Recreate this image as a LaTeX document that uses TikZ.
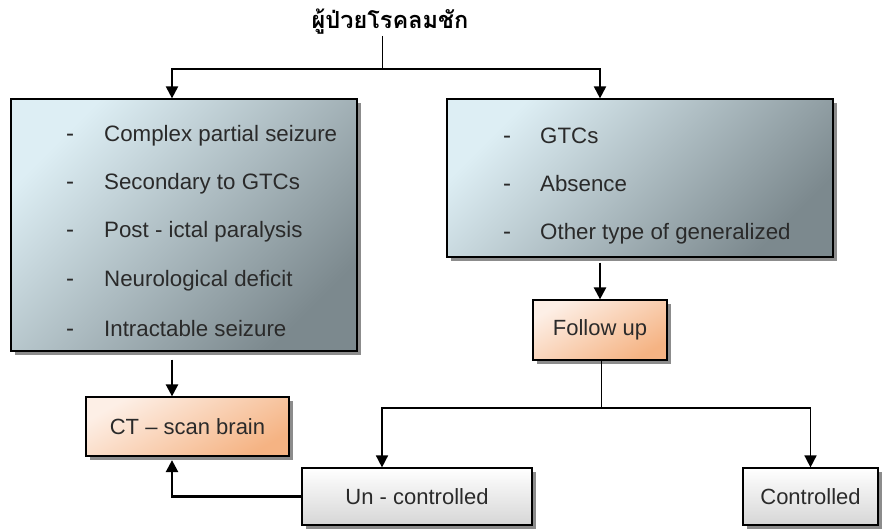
\documentclass[tikz,border=0pt]{standalone}
\usepackage{fontspec}
\setmainfont{Liberation Sans}
\newfontfamily\thaifont[Script=Thai]{Loma}
\usetikzlibrary{arrows.meta,shadows}
\definecolor{boxlight}{HTML}{DDEEF4}
\definecolor{boxdark}{HTML}{7C898E}
\definecolor{orlight}{HTML}{FDEFE6}
\definecolor{ordark}{HTML}{F5B383}
\definecolor{grlight}{HTML}{FFFFFF}
\definecolor{grdark}{HTML}{D6D6D6}
\definecolor{txt}{HTML}{2A2A2A}
\definecolor{shade}{HTML}{8C8C8C}
\tikzset{
  shad/.style={drop shadow={shadow xshift=3.5pt,shadow yshift=-3.5pt,fill=shade,opacity=1}},
  bigbox/.style={draw=black,line width=1.2pt,shad,top color=boxlight,bottom color=boxdark,shading angle=45,inner sep=0pt},
  orbox/.style={draw=black,line width=1.2pt,shad,top color=orlight,bottom color=ordark,shading angle=30,inner sep=0pt,text=txt,font=\fontsize{22}{26}\selectfont},
  grbox/.style={draw=black,line width=1.2pt,shad,top color=grlight,bottom color=grdark,inner sep=0pt,text=txt,font=\fontsize{22}{26}\selectfont},
  item/.style={anchor=base west,inner sep=0pt,text=txt,font=\fontsize{22.3}{26}\selectfont},
  dashmark/.style={anchor=base,inner sep=0pt,text=txt,font=\fontsize{24}{26}\selectfont},
  arr/.style={line width=2.4pt,-{Triangle[length=12pt,width=12pt]}},
  thinline/.style={line width=1pt},
}
\begin{document}
\begin{tikzpicture}[x=1pt,y=-1pt]
\useasboundingbox (0,0) rectangle (883,528);
% title
\node[inner sep=1pt,text=black,font=\thaifont\bfseries\fontsize{23.5}{27}\selectfont] (title) at (390,22) {ผู้ป่วยโรคลมชัก};
\coordinate (t) at (382,69);
% boxes
\node[bigbox,minimum width=346pt,minimum height=252pt] (L) at (184,225) {};
\node[bigbox,minimum width=386pt,minimum height=158pt] (R) at (640,178) {};
\node[orbox,minimum width=203pt,minimum height=59pt] (CT) at (187.5,426.5) {CT -- scan brain};
\node[orbox,minimum width=134pt,minimum height=60pt] (F) at (600,330) {Follow up};
\node[grbox,minimum width=230pt,minimum height=57pt] (U) at (417,496.5) {Un - controlled};
\node[grbox,minimum width=135pt,minimum height=57pt] (C) at (810.5,496.5) {Controlled};
% items left
\node[dashmark] (ld1) at (70,141) {-};
\node[item] (l1) at (104,141) {Complex partial seizure};
\node[dashmark] (ld2) at (70,189) {-};
\node[item] (l2) at (104,189) {Secondary to GTCs};
\node[dashmark] (ld3) at (70,237) {-};
\node[item] (l3) at (104,237) {Post - ictal paralysis};
\node[dashmark] (ld4) at (70,286) {-};
\node[item] (l4) at (104,286) {Neurological deficit};
\node[dashmark] (ld5) at (70,336) {-};
\node[item] (l5) at (104,336) {Intractable seizure};
% items right
\node[dashmark] (rd1) at (507,143) {-};
\node[item] (r1) at (540,143) {GTCs};
\node[dashmark] (rd2) at (507,191) {-};
\node[item] (r2) at (540,191) {Absence};
\node[dashmark] (rd3) at (507,239) {-};
\node[item] (r3) at (540,239) {Other type of generalized};
% connectors
\coordinate (rs) at ([yshift=-5pt]R.south -| F.north);
\coordinate (ls) at ([xshift=-12pt,yshift=-8pt]L.south);
\draw[thinline] (title.south -| t) -- (t);
\draw[arr,line width=2pt] (t) -| ([xshift=-12pt]L.north);
\draw[arr,line width=2pt] (t) -| (R.north -| F.north);
\draw[arr] (ls) -- (CT.north -| ls);
\draw[arr] (rs) -- (F.north);
\coordinate (b) at (601,408);
\draw[thinline] (F.south -| b) -- (b);
\draw[arr,line width=1.6pt] (b) -| ([xshift=-35pt]U.north);
\draw[arr,line width=1.6pt] (b) -| (C.north);
\draw[arr] (U.west) -| ([xshift=-15.5pt,yshift=-3.5pt]CT.south);
\end{tikzpicture}
\end{document}
